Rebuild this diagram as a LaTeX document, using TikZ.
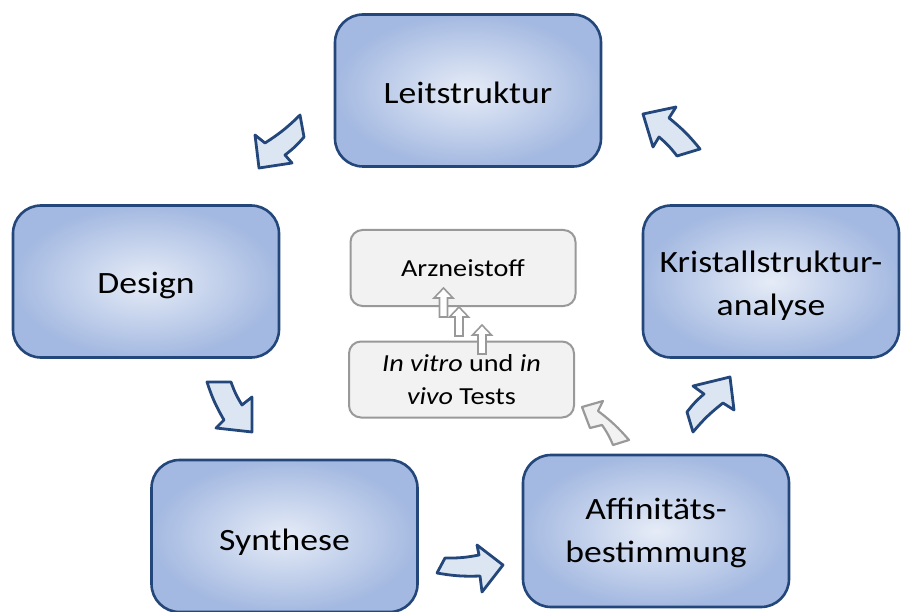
\documentclass[tikz,border=0pt]{standalone}
\usepackage{fontspec}
\setmainfont[FakeStretch=1.15]{Carlito}
\definecolor{bdr}{HTML}{23477A}
\definecolor{bgin}{HTML}{E6ECF7}
\definecolor{bgout}{HTML}{A4B9E1}
\definecolor{arrfill}{HTML}{DCE6F2}
\definecolor{gfill}{HTML}{F2F2F2}
\definecolor{gbdr}{HTML}{999999}
\tikzset{
  bigbox/.style={draw=bdr, line width=2.6pt, rounded corners=28pt, inner color=bgin, outer color=bgout,
    minimum width=266pt, minimum height=152pt},
  bigtext/.style={align=center, font=\fontsize{31}{43}\selectfont, text=black, inner sep=0pt},
  graybox/.style={draw=gbdr, line width=2pt, rounded corners=12pt, fill=gfill,
    minimum width=225pt, minimum height=76pt, align=center, font=\fontsize{24.5}{33}\selectfont, text=black},
  blockarrow/.style={draw=bdr, line width=2.8pt, fill=arrfill, line join=round},
  grayarrow/.style={draw=gbdr, line width=2.2pt, fill=gfill, line join=round},
  smallarrow/.style={draw=gbdr, line width=1.6pt, fill=white, line join=miter},
  uparrow/.pic={\path[smallarrow] (-4,29) -- (-4,10) -- (-9.5,10) -- (0,0) -- (9.5,10) -- (4,10) -- (4,29) -- cycle;}
}
\begin{document}
\begin{tikzpicture}[x=1pt,y=-1pt]
\useasboundingbox (0,0) rectangle (901,612);
% main boxes
\node[bigbox] (leit) at (468,90.5) {};
\node[bigtext] (leitT) at (468,92.5) {Leitstruktur};
\node[bigbox] (design) at (146,281.5) {};
\node[bigtext] (designT) at (146,285) {Design};
\node[bigbox, minimum width=256pt] (krist) at (771,281.5) {};
\node[bigtext] (kristT) at (771,285.5) {Kristallstruktur-\\analyse};
\node[bigbox] (synth) at (284.5,536) {};
\node[bigtext] (synthT) at (284.5,542.5) {Synthese};
\node[bigbox] (aff) at (656,531) {};
\node[bigtext] (affT) at (656,533) {Affinitäts-\\bestimmung};
% center boxes
\node[graybox] (arz) at (463,268) {Arzneistoff};
\node[graybox] (tests) at (461.5,379.5) {\textit{In vitro} und \textit{in}\\\textit{vivo} Tests};
% small arrows
\pic at (482,325) {uparrow};
\pic at (459,307) {uparrow};
\pic at (443.5,288) {uparrow};
% block arrows
% Leitstruktur -> Design
\path[blockarrow] (300,115) -- (304,137) to[bend left=6] (285,155) -- (292,163) -- (259,168) -- (255,135) -- (265,143) to[bend right=6] cycle;
% Design -> Synthese
\path[blockarrow] (207,382) -- (231,382) to[bend right=6] (242,405) -- (252,397) -- (252,432) -- (216,428) -- (224,420) to[bend left=6] cycle;
% Synthese -> Affinitaet
\path[blockarrow] (445,558) -- (437,573) to[bend right=6] (480,576) -- (482,592) -- (503,565) -- (477,545) -- (479,555) to[bend left=6] cycle;
% Affinitaet -> Kristall
\path[blockarrow] (693,432) -- (687,412) to[bend left=6] (704,394) -- (693,386) -- (730,377) -- (734,410) -- (723,403) to[bend right=6] cycle;
% Kristall -> Leitstruktur
\path[blockarrow] (700,149) -- (677,156) to[bend right=6] (659,137) -- (653,147) -- (643,114) -- (676,107) -- (669,118) to[bend left=6] cycle;
% Affinitaet -> Tests (gray)
\path[grayarrow] (629,440) -- (613,445) to[bend right=6] (602,425) -- (590,428) -- (582,407) -- (603,401) -- (598,411) to[bend left=6] cycle;
\end{tikzpicture}
\end{document}
